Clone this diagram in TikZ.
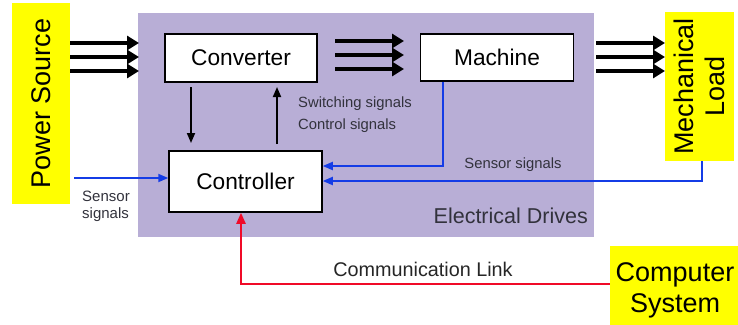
\documentclass[tikz,border=0pt]{standalone}
\usepackage{fontspec}
\setmainfont{Liberation Sans}
\usetikzlibrary{arrows.meta}
\definecolor{drivebg}{RGB}{184,174,214}
\definecolor{ylw}{RGB}{255,255,0}
\definecolor{sigblue}{RGB}{20,60,230}
\definecolor{commred}{RGB}{240,10,40}
\definecolor{txtgray}{RGB}{50,50,60}
\tikzset{
  yellowbox/.style={fill=ylw, draw=none, inner sep=0pt},
  whitebox/.style={fill=white, draw=black, line width=1.5pt, inner sep=0pt},
  power/.style={line width=4pt, -{Triangle[length=12pt,width=14pt]}},
  ctrl/.style={line width=1.8pt, -{Triangle[length=10pt,width=8pt]}},
  sensor/.style={draw=sigblue, line width=1.8pt, -{Triangle[length=10pt,width=8pt]}},
  comm/.style={draw=commred, line width=2.2pt, -{Triangle[length=11pt,width=9pt]}},
}
\begin{document}
\begin{tikzpicture}[x=1pt,y=-1pt]
\useasboundingbox (0,0) rectangle (738,324);
% blocks
\node[yellowbox, minimum width=58pt, minimum height=201pt] (ps) at (41,103.5) {};
\node[rotate=90, font=\fontsize{27}{31}\selectfont] (pslabel) at (ps.center) {Power Source};
\node[fill=drivebg, draw=none, minimum width=456pt, minimum height=224pt, inner sep=0pt] (ed) at (366,125) {};
\node[anchor=south east, font=\fontsize{21.5}{24}\selectfont, text=txtgray, inner sep=0pt] (edlabel) at (588,224) {Electrical Drives};
\node[yellowbox, minimum width=69pt, minimum height=149pt] (ml) at (699.5,86.5) {};
\node[rotate=90, align=center, font=\fontsize{27}{31}\selectfont] (mllabel) at (ml.center) {Mechanical\\Load};
\node[yellowbox, minimum width=130pt, minimum height=80pt] (cs) at (675,286) {};
\node[align=center, font=\fontsize{27}{31}\selectfont] (cslabel) at (675,290) {Computer\\System};
\node[whitebox, minimum width=152pt, minimum height=48pt, font=\fontsize{22.7}{26}\selectfont] (conv) at (241,58) {Converter};
\node[whitebox, minimum width=153pt, minimum height=47pt, font=\fontsize{22.7}{26}\selectfont] (mach) at (497,57.5) {Machine};
\node[whitebox, minimum width=153pt, minimum height=61pt, font=\fontsize{22.7}{26}\selectfont] (ctl) at (245.5,181.5) {Controller};
% power flow arrows
\foreach \y in {43,57,71} {
  \coordinate (pa\y) at (70,\y);
  \coordinate (pb\y) at (139,\y);
  \draw[power] (pa\y) -- (pb\y);
}
\foreach \y in {41,55,69} {
  \coordinate (ca\y) at (335,\y);
  \coordinate (cb\y) at (404,\y);
  \draw[power] (ca\y) -- (cb\y);
}
\foreach \y in {43,57,71} {
  \coordinate (ma\y) at (596,\y);
  \coordinate (mb\y) at (665,\y);
  \draw[power] (ma\y) -- (mb\y);
}
% converter <-> controller
\coordinate (d1) at (191,87);
\coordinate (d2) at (191,143);
\draw[ctrl] (d1) -- (d2);
\coordinate (u1) at (277,144);
\coordinate (u2) at (277,87);
\draw[ctrl] (u1) -- (u2);
\node[anchor=west, align=left, font=\fontsize{14.8}{22}\selectfont, text=txtgray, inner sep=0pt] (swlabel) at (298,115) {Switching signals\\Control signals};
% sensor signals
\coordinate (mbot) at (443,81.5);
\draw[sensor] (mbot) |- (ctl.east |- 0,166);
\coordinate (mlbot) at (702,161);
\draw[sensor] (mlbot) |- (ctl.east |- 0,181);
\node[font=\fontsize{14.8}{17}\selectfont, text=txtgray, inner sep=0pt] (senslabel) at (513,165) {Sensor signals};
\coordinate (sl) at (74,178);
\draw[sensor] (sl) -- (ctl.west |- sl);
\node[align=left, font=\fontsize{15}{17}\selectfont, text=txtgray, inner sep=0pt] (senslabel2) at (106,206) {Sensor\\signals};
% communication link
\draw[comm] (cs.west |- 0,284) -| (ctl.south -| 241,0);
\node[font=\fontsize{19.8}{22}\selectfont, text=black!85, inner sep=0pt] (commlabel) at (423,269) {Communication Link};
\end{tikzpicture}
\end{document}
